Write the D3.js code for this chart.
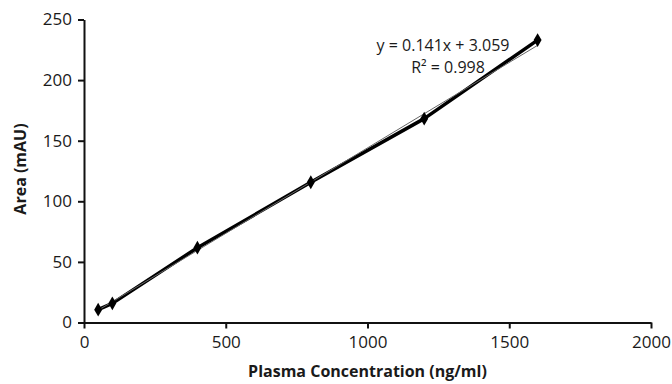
<!DOCTYPE html>
<html>
<head>
<meta charset="utf-8">
<script src="https://cdn.jsdelivr.net/npm/d3@7"></script>
<style>
  body { margin: 0; background: #fff; }
  text { font-family: 'Open Sans', sans-serif; fill: #1a1a1a; }
</style>
</head>
<body>
<div id="chart"></div>
<script>
// calibration data
const concentration = [50, 100, 400, 800, 1200, 1600]
const area = [10.6, 15.8, 61.7, 115.7, 168.2, 233]
const slope = 0.141
const intercept = 3.059
const xTicks = [0, 500, 1000, 1500, 2000]
const yTicks = [0, 50, 100, 150, 200, 250]

const w = 672
const h = 384
const margin = { top: 19.5, right: 21, bottom: 61.5, left: 84 }
const width = w - margin.left - margin.right
const height = h - margin.top - margin.bottom

const svg = d3.select('#chart').append('svg')
  .attr('width', w)
  .attr('height', h)

const g = svg.append('g').attr('transform', 'translate(' + margin.left + ',' + margin.top + ')')

const x = d3.scaleLinear().domain([0, 2000]).range([0, width])
const y = d3.scaleLinear().domain([0, 250]).range([height, 0])

const xAxis = g.append('g')
  .attr('transform', 'translate(0,' + height + ')')
  .call(d3.axisBottom(x).tickValues(xTicks).tickFormat(d3.format('d')).tickSizeInner(6).tickSizeOuter(0).tickPadding(7))
xAxis.selectAll('text').style('font-size', '17px')

const yAxis = g.append('g')
  .call(d3.axisLeft(y).tickValues(yTicks).tickSizeInner(6).tickSizeOuter(0).tickPadding(6))
yAxis.selectAll('text').style('font-size', '17px')

g.selectAll('.domain').attr('stroke', '#111').attr('stroke-width', 2)
g.selectAll('.tick line').attr('stroke', '#111').attr('stroke-width', 2)

const pts = concentration.map((c, i) => [c, area[i]])

// data line
g.append('path')
  .datum(pts)
  .attr('fill', 'none')
  .attr('stroke', '#000')
  .attr('stroke-width', 3.5)
  .attr('stroke-linejoin', 'round')
  .attr('d', d3.line().x(d => x(d[0])).y(d => y(d[1])))

// linear trend line
const trendX = [concentration[0], concentration[concentration.length - 1]]
g.append('path')
  .datum(trendX)
  .attr('fill', 'none')
  .attr('stroke', '#666')
  .attr('stroke-width', 1)
  .attr('d', d3.line().x(d => x(d)).y(d => y(slope * d + intercept)))

// diamond markers
g.selectAll('.pt')
  .data(pts)
  .enter().append('path')
    .attr('class', 'pt')
    .attr('transform', d => 'translate(' + x(d[0]) + ',' + y(d[1]) + ')')
    .attr('d', d3.symbol(d3.symbolDiamond, 55))
    .attr('fill', '#000')

// equation label
g.append('text')
  .attr('x', 443 - margin.left)
  .attr('y', 51 - margin.top)
  .attr('text-anchor', 'middle')
  .style('font-size', '16px')
  .text('y = 0.141x + 3.059')

g.append('text')
  .attr('x', 448 - margin.left)
  .attr('y', 73 - margin.top)
  .attr('text-anchor', 'middle')
  .style('font-size', '16px')
  .text('R² = 0.998')

// axis titles
svg.append('text')
  .attr('x', margin.left + width / 2)
  .attr('y', 377)
  .attr('text-anchor', 'middle')
  .style('font-size', '16px')
  .style('font-weight', 'bold')
  .text('Plasma Concentration (ng/ml)')

svg.append('text')
  .attr('transform', 'translate(26,169) rotate(-90)')
  .attr('text-anchor', 'middle')
  .style('font-size', '16px')
  .style('font-weight', 'bold')
  .text('Area (mAU)')
</script>
</body>
</html>
